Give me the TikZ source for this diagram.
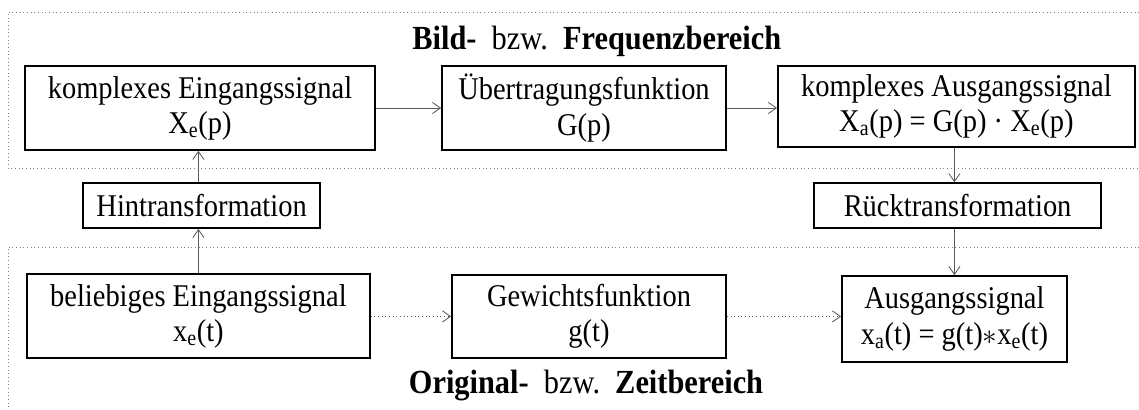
\documentclass[tikz,border=0pt]{standalone}
\usepackage{fontspec}
\setmainfont[FakeStretch=0.9]{Liberation Serif}
\usepackage{tikz}
\usetikzlibrary{arrows.meta,positioning,calc}

\begin{document}
\begin{tikzpicture}[
    box/.style={draw, line width=1.2pt, align=center, inner sep=0pt, font=\fontsize{22.5}{25}\selectfont},
    frame/.style={draw=gray, dotted, line width=0.6pt},
    arrow/.style={-{Straight Barb[length=2mm,width=2.8mm]}, draw=gray!70!black, line width=0.6pt},
    dotarrow/.style={arrow, dotted},
    title/.style={font=\fontsize{24}{28}\selectfont}
]
    \useasboundingbox (0,0) rectangle (28.475,10.25);

    % Frequency domain frame and time domain frame
    \draw[frame] (28.475,9.95) -- (0.2,9.95) -- (0.2,6.05) -- (28.475,6.05);
    \draw[frame] (28.475,4.075) -- (0.2,4.075) -- (0.2,0);

    \node[title] (bildtitel) at (14.92,9.22) {\textbf{Bild-}\hspace{0.45em}bzw.\hspace{0.45em}\textbf{Frequenzbereich}};
    \node[title] (origtitel) at (14.65,0.62) {\textbf{Original-}\hspace{0.45em}bzw.\hspace{0.45em}\textbf{Zeitbereich}};

    % Upper row
    \node[box, minimum width=8.75cm, minimum height=2.1cm] (ein) at (5.0,7.55) {komplexes Eingangssignal\\X\textsubscript{e}(p)};
    \node[box, minimum width=7.1cm, minimum height=2.1cm] (ueb) at (14.6,7.55) {Übertragungsfunktion\\G(p)};
    \node[box, minimum width=8.925cm, minimum height=2.02cm] (aus) at (23.91,7.59) {komplexes Ausgangssignal\\X\textsubscript{a}(p) = G(p) · X\textsubscript{e}(p)};

    % Transformations
    \node[box, minimum width=5.93cm, minimum height=1.125cm] (hin) at (5.04,5.11) {Hintransformation};
    \node[box, minimum width=7.18cm, minimum height=1.125cm] (rueck) at (23.94,5.11) {Rücktransformation};

    % Lower row
    \node[box, minimum width=8.575cm, minimum height=2.1cm] (bel) at (4.96,2.35) {beliebiges Eingangssignal\\x\textsubscript{e}(t)};
    \node[box, minimum width=6.85cm, minimum height=2.08cm] (gew) at (14.725,2.34) {Gewichtsfunktion\\g(t)};
    \node[box, minimum width=5.625cm, minimum height=2.15cm] (ausg) at (23.86,2.275) {Ausgangssignal\\x\textsubscript{a}(t) = g(t)$*$x\textsubscript{e}(t)};

    % Connections
    \draw[arrow] (ein.east) -- (ein.east -| ueb.west);
    \draw[arrow] (ueb.east) -- (ueb.east -| aus.west);
    \draw[arrow] (bel.north) -- (bel.north |- hin.south);
    \draw[arrow] (hin.north -| bel.north) -- (bel.north |- ein.south);
    \draw[arrow] (aus.south -| ausg.north) -- (rueck.north -| ausg.north);
    \draw[arrow] (rueck.south -| ausg.north) -- (ausg.north);
    \draw[dotarrow] (bel.east |- gew.west) -- (gew.west);
    \draw[dotarrow] (gew.east) -- (gew.east -| ausg.west);
\end{tikzpicture}
\end{document}
